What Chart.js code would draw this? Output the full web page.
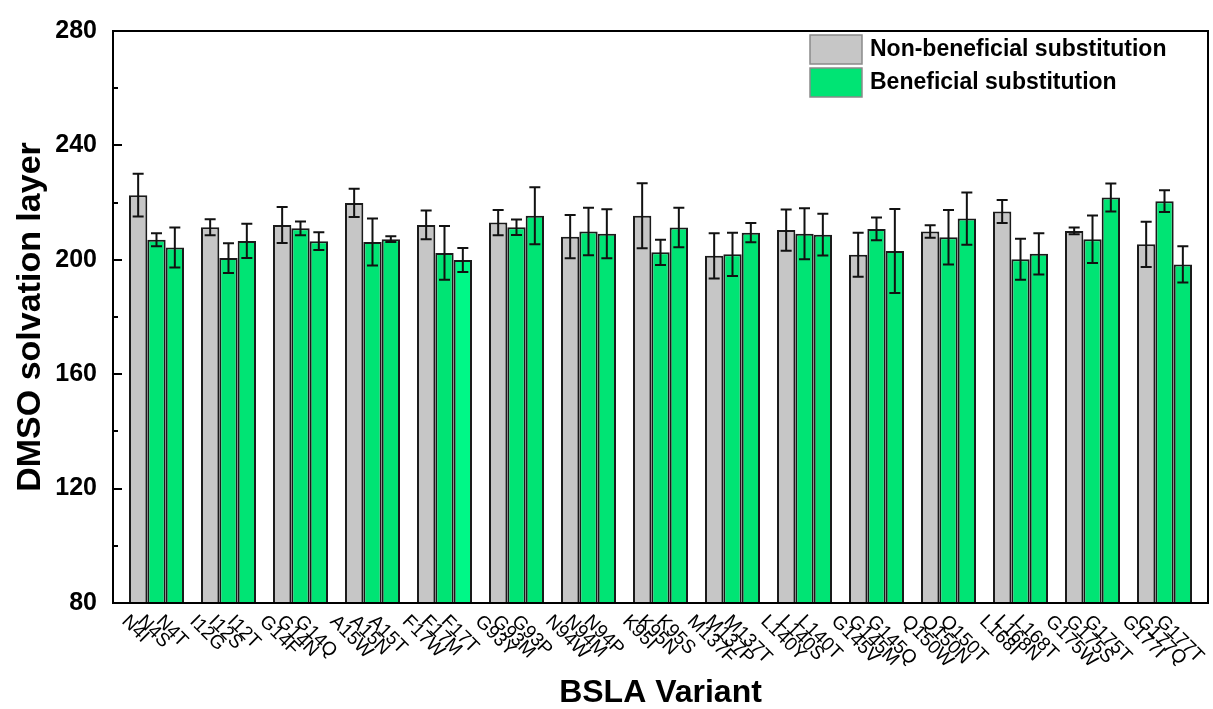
<!DOCTYPE html>
<html>
<head>
<meta charset="utf-8">
<script src="https://cdn.jsdelivr.net/npm/chart.js@4/dist/chart.umd.min.js"></script>
<style>
  html, body { margin: 0; padding: 0; background: #ffffff; }
  #wrap { width: 1213px; height: 709px; }
</style>
</head>
<body>
<div id="wrap"><canvas id="c" width="1213" height="709"></canvas></div>
<script>
// Substitution sites (one bar group per site)
const sites = ['N4', 'I12', 'G14', 'A15', 'F17', 'G93', 'N94', 'K95', 'M137', 'L140', 'G145', 'Q150', 'L168', 'G175', 'G177'];

// Variant names, first / second / third bar in each group
const nonBeneficialNames = ['N4I', 'I12G', 'G14F', 'A15W', 'F17W', 'G93Y', 'N94W', 'K95I', 'M137F', 'L140Y', 'G145V', 'Q150W', 'L168I', 'G175W', 'G177I'];
const beneficialNamesA   = ['N4S', 'I12S', 'G14N', 'A15N', 'F17M', 'G93M', 'N94M', 'K95N', 'M137P', 'L140S', 'G145M', 'Q150N', 'L168N', 'G175S', 'G177Q'];
const beneficialNamesB   = ['N4T', 'I12T', 'G14Q', 'A15T', 'F17T', 'G93P', 'N94P', 'K95S', 'M137T', 'L140T', 'G145Q', 'Q150T', 'L168T', 'G175T', 'G177T'];

// DMSO solvation layer (mean) and standard deviation
const nonBeneficialValues = [222.6, 211.4, 212.2, 219.9, 212.2, 213.0, 208.1, 215.4, 201.4, 210.4, 201.8, 209.9, 216.9, 210.1, 205.4];
const nonBeneficialErrors = [7.5, 2.8, 6.3, 4.9, 5.0, 4.4, 7.6, 11.4, 7.9, 7.2, 7.7, 2.2, 4.0, 1.2, 7.9];
const beneficialValuesA   = [207.0, 200.6, 211.0, 206.2, 202.4, 211.4, 209.9, 202.6, 201.9, 209.1, 210.8, 207.9, 200.2, 207.2, 220.5];
const beneficialErrorsA   = [2.3, 5.2, 2.4, 8.2, 9.4, 2.7, 8.3, 4.4, 7.6, 8.9, 4.0, 9.5, 7.2, 8.3, 3.8];
const beneficialValuesB   = [204.3, 206.6, 206.5, 207.2, 199.9, 215.4, 209.1, 211.3, 209.5, 208.8, 203.1, 214.4, 202.1, 221.8, 198.4];
const beneficialErrorsB   = [7.0, 6.0, 3.1, 1.0, 4.2, 10.0, 8.6, 6.9, 3.4, 7.3, 14.7, 9.1, 7.2, 4.9, 6.3];

// Y axis
const yTickValues = [80, 120, 160, 200, 240, 280];
const yMinorStep = 20;

const FONT = "'Liberation Sans', Arial, Helvetica, sans-serif";
const GRAY = '#C6C6C6';
const GREEN = '#00E474';
const GREEN_LIGHT = '#00F887';

const toPoints = vals => vals.map((v, i) => ({ x: i, y: v }));

// Error bars drawn from each dataset's "errors" array
const errorBarPlugin = {
  id: 'errorBars',
  afterDatasetsDraw(chart) {
    const ctx = chart.ctx;
    const y = chart.scales.y;
    ctx.save();
    ctx.strokeStyle = '#111111';
    ctx.lineWidth = 2;
    chart.data.datasets.forEach((ds, d) => {
      const meta = chart.getDatasetMeta(d);
      meta.data.forEach((bar, i) => {
        const v = ds.data[i].y, e = ds.errors[i];
        const yTop = y.getPixelForValue(v + e);
        const yBot = y.getPixelForValue(v - e);
        const cx = bar.x, cap = 5.5;
        ctx.beginPath();
        ctx.moveTo(cx, yTop); ctx.lineTo(cx, yBot);
        ctx.moveTo(cx - cap, yTop); ctx.lineTo(cx + cap, yTop);
        ctx.moveTo(cx - cap, yBot); ctx.lineTo(cx + cap, yBot);
        ctx.stroke();
      });
    });
    ctx.restore();
  }
};

// Axis frame, inward ticks on the left axis, rotated variant names, legend
const framePlugin = {
  id: 'frame',
  afterDraw(chart) {
    const ctx = chart.ctx;
    const a = chart.chartArea;
    const y = chart.scales.y;
    ctx.save();

    // frame
    ctx.strokeStyle = '#000000';
    ctx.lineWidth = 2;
    ctx.strokeRect(a.left, a.top, a.right - a.left, a.bottom - a.top);

    // left axis ticks (major with labels, minor between)
    for (let v = y.min; v <= y.max; v += yMinorStep) {
      const py = Math.round(y.getPixelForValue(v));
      const len = yTickValues.includes(v) ? 9 : 5;
      ctx.beginPath();
      ctx.moveTo(a.left, py); ctx.lineTo(a.left + len, py);
      ctx.stroke();
    }

    // rotated variant names under each bar
    ctx.fillStyle = '#000000';
    ctx.font = '19px ' + FONT;
    ctx.textAlign = 'center';
    ctx.textBaseline = 'middle';
    const k = Math.SQRT1_2;
    chart.data.datasets.forEach((ds, d) => {
      const meta = chart.getDatasetMeta(d);
      meta.data.forEach((bar, i) => {
        const name = ds.names[i];
        const w = ctx.measureText(name).width;
        const h = 16;
        const cx = bar.x - 3;
        const cy = a.bottom + 10 + k * (w + h) / 2;
        ctx.save();
        ctx.translate(cx, cy);
        ctx.rotate(Math.PI / 4);
        ctx.fillText(name, 0, 0);
        ctx.restore();
      });
    });

    // legend
    const items = [
      { text: 'Non-beneficial substitution', color: GRAY, y: 35 },
      { text: 'Beneficial substitution', color: GREEN, y: 68 }
    ];
    const bx = a.right - 398;
    ctx.font = 'bold 23px ' + FONT;
    ctx.textAlign = 'left';
    ctx.textBaseline = 'middle';
    items.forEach(it => {
      ctx.fillStyle = it.color;
      ctx.fillRect(bx, it.y, 52, 29);
      ctx.strokeStyle = '#8a8a8a';
      ctx.lineWidth = 1.5;
      ctx.strokeRect(bx, it.y, 52, 29);
      ctx.fillStyle = '#000000';
      ctx.fillText(it.text, bx + 60, it.y + 15);
    });

    ctx.restore();
  }
};

const barStyle = { borderColor: '#1a1a1a', borderWidth: 2, categoryPercentage: 0.764, barPercentage: 1.0 };

new Chart(document.getElementById('c'), {
  type: 'bar',
  data: {
    datasets: [
      Object.assign({
        label: 'Non-beneficial substitution',
        data: toPoints(nonBeneficialValues),
        errors: nonBeneficialErrors,
        names: nonBeneficialNames,
        backgroundColor: GRAY
      }, barStyle),
      Object.assign({
        label: 'Beneficial substitution',
        data: toPoints(beneficialValuesA),
        errors: beneficialErrorsA,
        names: beneficialNamesA,
        backgroundColor: GREEN
      }, barStyle),
      Object.assign({
        label: 'Beneficial substitution',
        data: toPoints(beneficialValuesB),
        errors: beneficialErrorsB,
        names: beneficialNamesB,
        backgroundColor: beneficialNamesB.map(n => n === 'F17T' ? GREEN_LIGHT : GREEN)
      }, barStyle)
    ]
  },
  options: {
    responsive: false,
    devicePixelRatio: 1,
    animation: false,
    layout: { padding: { top: 26, right: 5, left: 0, bottom: 0 } },
    plugins: { legend: { display: false }, tooltip: { enabled: false } },
    scales: {
      x: {
        type: 'linear',
        offset: false,
        bounds: 'data',
        min: -0.604,
        max: sites.length - 1 + 0.604,
        grid: { display: false, drawTicks: false, offset: false },
        border: { display: false },
        ticks: { display: false },
        title: {
          display: true,
          text: 'BSLA Variant',
          color: '#000000',
          font: { family: FONT, size: 32, weight: 'bold', lineHeight: 1 },
          padding: { top: 1, bottom: 0 }
        },
        afterFit(scale) { scale.height = 106; }
      },
      y: {
        min: 80,
        max: 280,
        afterBuildTicks(scale) { scale.ticks = yTickValues.map(v => ({ value: v })); },
        grid: { display: false, drawTicks: false },
        border: { display: false },
        ticks: {
          color: '#000000',
          padding: 16,
          font: { family: FONT, size: 25, weight: 'bold' }
        },
        title: {
          display: true,
          text: 'DMSO solvation layer',
          color: '#000000',
          font: { family: FONT, size: 34, weight: 'bold', lineHeight: 1.2 },
          padding: { top: 10, bottom: 0 }
        },
        afterFit(scale) { scale.width = 113; }
      }
    }
  },
  plugins: [errorBarPlugin, framePlugin]
});
</script>
</body>
</html>
